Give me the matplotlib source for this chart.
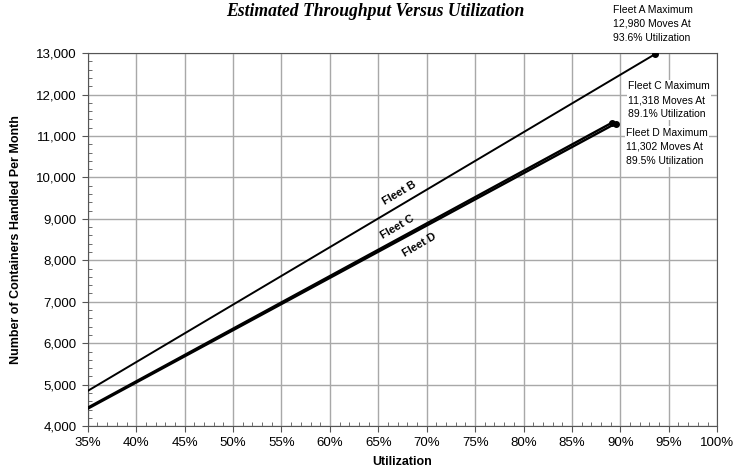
import numpy as np
import matplotlib.pyplot as plt
from matplotlib.ticker import MultipleLocator, FuncFormatter

# utilization (%) and containers per month, start / end of each fleet line
fleetA_util = [35.0, 93.6]
fleetA_moves = [4850, 12980]
fleetC_util = [35.0, 89.1]
fleetC_moves = [4445, 11318]
fleetD_util = [35.0, 89.5]
fleetD_moves = [4420, 11302]

plt.rcParams['font.family'] = ['Liberation Sans', 'DejaVu Sans']

fig = plt.figure(figsize=(7.44, 4.75), dpi=100)
ax = fig.add_axes([0.118, 0.103, 0.846, 0.785])

ax.plot(fleetA_util, fleetA_moves, color='black', lw=1.4, zorder=3)
ax.plot(fleetC_util, fleetC_moves, color='black', lw=1.7, zorder=3)
ax.plot(fleetD_util, fleetD_moves, color='black', lw=1.7, zorder=3)
ax.plot(fleetA_util[-1], fleetA_moves[-1], 'o', color='black', ms=4, zorder=4)
ax.plot(fleetC_util[-1], fleetC_moves[-1], 'o', color='black', ms=4, zorder=4)
ax.plot(fleetD_util[-1], fleetD_moves[-1], 'o', color='black', ms=4, zorder=4)

ax.set_xlim(35, 100)
ax.set_ylim(4000, 13000)
ax.xaxis.set_major_locator(MultipleLocator(5))
ax.xaxis.set_minor_locator(MultipleLocator(1))
ax.yaxis.set_major_locator(MultipleLocator(1000))
ax.yaxis.set_minor_locator(MultipleLocator(200))
ax.xaxis.set_major_formatter(FuncFormatter(lambda v, p: '%d%%' % v))
ax.yaxis.set_major_formatter(FuncFormatter(lambda v, p: '{:,.0f}'.format(v)))

ax.grid(True, which='major', color='#a8a8a8', lw=1.0)
for s in ax.spines.values():
    s.set_color('#555555')
ax.tick_params(which='major', direction='out', length=4, color='#555555', labelsize=9.5, pad=4)
ax.tick_params(which='minor', direction='in', length=3, color='#555555')

ax.set_xlabel('Utilization', fontsize=9, fontweight='bold', labelpad=5)
ax.set_ylabel('Number of Containers Handled Per Month', fontsize=9, fontweight='bold', labelpad=10)

fig.text(0.505, 0.975, 'Estimated Throughput Versus Utilization', family='Liberation Serif',
         fontsize=12.7, fontweight='bold', style='italic', ha='center', va='center')

# line labels
ang = 30.5
ax.text(67.2, 9620, 'Fleet B', rotation=ang, fontsize=8, fontweight='bold', ha='center', va='center')
ax.text(67.0, 8800, 'Fleet C', rotation=ang, fontsize=8, fontweight='bold', ha='center', va='center')
ax.text(69.3, 8370, 'Fleet D', rotation=ang, fontsize=8, fontweight='bold', ha='center', va='center')

# maximum annotations
fig.text(613 / 744, 1 - 24 / 475, 'Fleet A Maximum\n12,980 Moves At\n93.6% Utilization',
         fontsize=7.5, ha='left', va='center', linespacing=1.5)
ax.text(90.8, 11870, 'Fleet C Maximum\n11,318 Moves At\n89.1% Utilization', fontsize=7.5,
        ha='left', va='center', linespacing=1.5, zorder=5,
        bbox=dict(facecolor='white', edgecolor='none', pad=1))
ax.text(90.6, 10740, 'Fleet D Maximum\n11,302 Moves At\n89.5% Utilization', fontsize=7.5,
        ha='left', va='center', linespacing=1.5, zorder=5,
        bbox=dict(facecolor='white', edgecolor='none', pad=1))

fig.savefig('out.png', dpi=100)
